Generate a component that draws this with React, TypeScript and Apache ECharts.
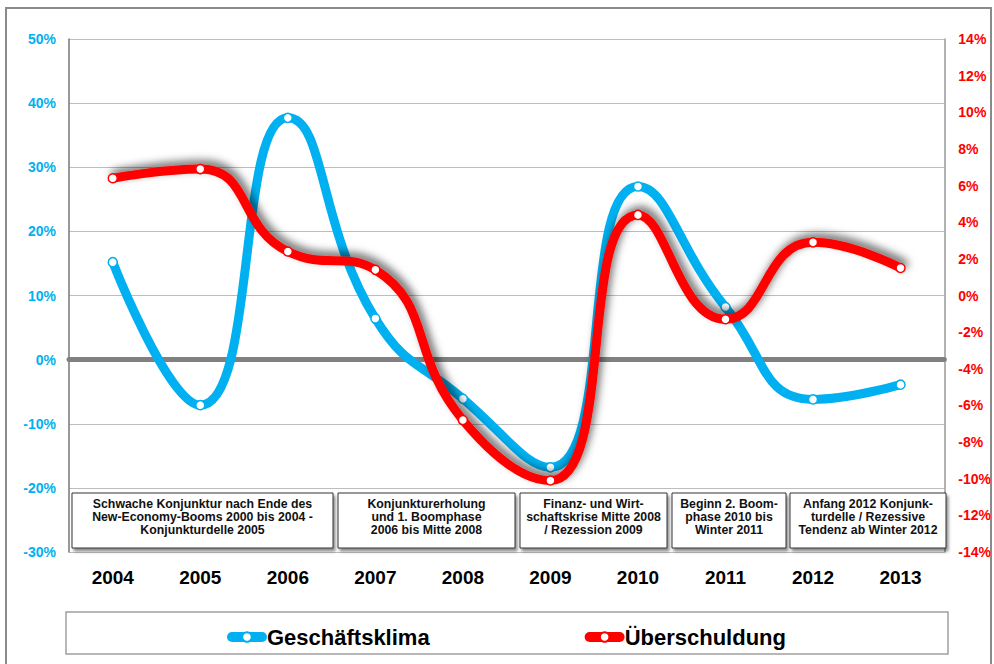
import React, { useEffect, useRef } from "react";
import * as echarts from "echarts";

const years = ["2004", "2005", "2006", "2007", "2008", "2009", "2010", "2011", "2012", "2013"];
const geschaeftsklima = [15.2, -7.1, 37.7, 6.4, -6.1, -16.8, 27.0, 8.2, -6.2, -3.9];
const ueberschuldung = [6.4, 6.9, 2.4, 1.4, -6.8, -10.1, 4.4, -1.3, 2.9, 1.5];
const seriesNames = ["Geschäftsklima", "Überschuldung"];
const leftTicks = { min: -30, max: 50, interval: 10 };
const rightTicks = { min: -14, max: 14, interval: 2 };
const phaseTexts = [
  "Schwache Konjunktur nach Ende des\nNew-Economy-Booms 2000 bis 2004 -\nKonjunkturdelle 2005",
  "Konjunkturerholung\nund 1. Boomphase\n2006 bis Mitte 2008",
  "Finanz- und Wirt-\nschaftskrise Mitte 2008\n/ Rezession 2009",
  "Beginn 2. Boom-\nphase 2010 bis\nWinter 2011",
  "Anfang 2012 Konjunk-\nturdelle / Rezessive\nTendenz ab Winter 2012",
];
const phaseBoxes = [
  [72, 333],
  [338, 515],
  [520, 667],
  [672, 786],
  [790, 946],
];

const FONT = "'Liberation Sans', Arial, Helvetica, sans-serif";
const BLUE = "#00b0f0";
const RED = "#ff0000";

export default function App() {
  const ref = useRef<HTMLDivElement>(null);
  useEffect(() => {
    document.body.style.margin = "0";
    const chart = echarts.init(ref.current!, null, { renderer: "svg" });
    const graphics: any[] = [
      {
        type: "rect",
        shape: { x: 6, y: 8, width: 985, height: 680 },
        style: { fill: "none", stroke: "#8a8a8a", lineWidth: 2 },
        z: 0,
        silent: true,
      },
      {
        type: "rect",
        shape: { x: 66, y: 612, width: 882, height: 42 },
        style: { fill: "#fff", stroke: "#a0a0a0", lineWidth: 1.5 },
        z: 0,
        silent: true,
      },
    ];
    phaseBoxes.forEach(([x0, x1], i) => {
      graphics.push({
        type: "rect",
        shape: { x: x0, y: 493, width: x1 - x0, height: 55 },
        style: {
          fill: "#fff",
          stroke: "#333",
          lineWidth: 1,
          shadowColor: "rgba(0,0,0,0.45)",
          shadowBlur: 3,
          shadowOffsetX: 2,
          shadowOffsetY: 3,
        },
        z: 10,
        silent: true,
      });
      graphics.push({
        type: "text",
        x: (x0 + x1) / 2,
        y: 517,
        style: {
          text: phaseTexts[i],
          fontFamily: FONT,
          fontSize: 12.3,
          fontWeight: "bold",
          fill: "#111",
          align: "center",
          verticalAlign: "middle",
          lineHeight: 13,
        },
        z: 11,
        silent: true,
      });
    });

    chart.setOption({
      animation: false,
      backgroundColor: "#fff",
      grid: { left: 69, right: 49, top: 39, bottom: 112, containLabel: false },
      legend: {
        data: seriesNames,
        left: 222,
        top: 621,
        itemGap: 155,
        itemWidth: 30,
        itemHeight: 12,
        lineStyle: { width: 10, cap: "round" },
        textStyle: { fontFamily: FONT, fontSize: 22, fontWeight: "bold", color: "#000" },
      },
      xAxis: [
        {
          type: "category",
          data: years,
          position: "bottom",
          boundaryGap: true,
          axisLine: { show: false, onZero: false },
          axisTick: { show: false },
          axisLabel: {
            margin: 16,
            fontFamily: FONT,
            fontSize: 19,
            fontWeight: "bold",
            color: "#000",
          },
          splitLine: { show: false },
        },
        {
          type: "category",
          data: years,
          position: "bottom",
          boundaryGap: true,
          axisLine: { show: true, onZero: true, onZeroAxisIndex: 0, lineStyle: { color: "#808080", width: 5 } },
          axisTick: { show: false },
          axisLabel: { show: false },
          splitLine: { show: false },
        },
      ],
      yAxis: [
        {
          type: "value",
          min: leftTicks.min,
          max: leftTicks.max,
          interval: leftTicks.interval,
          position: "left",
          axisLine: { show: true, lineStyle: { color: "#777", width: 1.5 } },
          axisTick: { show: false },
          axisLabel: {
            formatter: "{value}%",
            margin: 13,
            fontFamily: FONT,
            fontSize: 14,
            fontWeight: "bold",
            color: BLUE,
          },
          splitLine: { show: true, lineStyle: { color: "#bdbdbd", width: 1 } },
        },
        {
          type: "value",
          min: rightTicks.min,
          max: rightTicks.max,
          interval: rightTicks.interval,
          position: "right",
          axisLine: { show: true, lineStyle: { color: "#999", width: 1.5 } },
          axisTick: { show: false },
          axisLabel: {
            formatter: "{value}%",
            margin: 14,
            fontFamily: FONT,
            fontSize: 14,
            fontWeight: "bold",
            color: RED,
          },
          splitLine: { show: false },
        },
      ],
      series: [
        {
          name: seriesNames[0],
          type: "line",
          xAxisIndex: 0,
          yAxisIndex: 0,
          data: geschaeftsklima,
          smooth: 0.5,
          symbol: "circle",
          symbolSize: 9,
          showSymbol: true,
          lineStyle: { color: BLUE, width: 9, cap: "round" },
          itemStyle: { color: "#fff", borderColor: BLUE, borderWidth: 1.5 },
          z: 3,
        },
        {
          name: seriesNames[1],
          type: "line",
          xAxisIndex: 0,
          yAxisIndex: 1,
          data: ueberschuldung,
          smooth: 0.5,
          symbol: "circle",
          symbolSize: 9,
          showSymbol: true,
          lineStyle: {
            color: RED,
            width: 9,
            cap: "round",
            shadowColor: "rgba(0,0,0,0.6)",
            shadowBlur: 8,
            shadowOffsetX: 3,
            shadowOffsetY: -4,
          },
          itemStyle: { color: "#fff", borderColor: RED, borderWidth: 1.5 },
          z: 4,
        },
      ],
      graphic: graphics,
    });
    return () => chart.dispose();
  }, []);
  return <div ref={ref} style={{ width: 994, height: 664 }} />;
}
